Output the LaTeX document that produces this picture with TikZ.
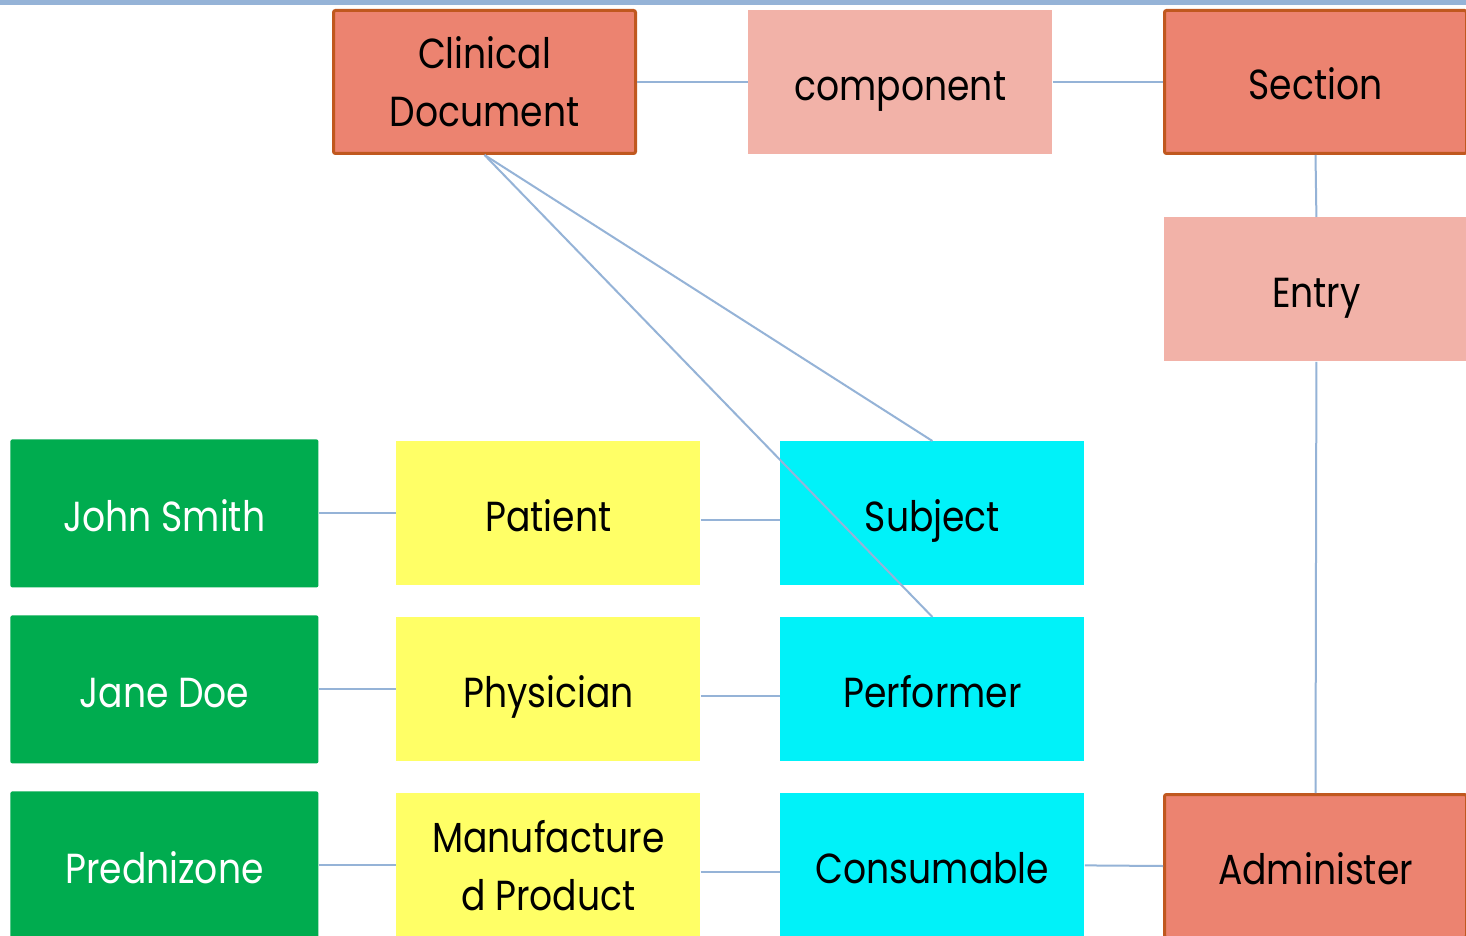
\documentclass[tikz,border=0pt]{standalone}
\usepackage{fontspec}
\setmainfont{Poppins}[FakeStretch=0.86]
\definecolor{linkblue}{HTML}{95B3D7}
\definecolor{darkfill}{HTML}{EC8370}
\definecolor{darkedge}{HTML}{C0581F}
\definecolor{lightfill}{HTML}{F2B2A8}
\definecolor{greenfill}{HTML}{00AC4F}
\definecolor{yellowfill}{HTML}{FFFF66}
\definecolor{cyanfill}{HTML}{00F2F9}
\begin{document}
\begin{tikzpicture}[x=0.5pt,y=-0.5pt,
  box/.style={rectangle, inner sep=0pt, anchor=north west, align=center,
    minimum width=152pt, minimum height=72pt,
    font=\fontsize{21}{29}\selectfont},
  oneline/.style={text height=20pt, text depth=2pt},
  darkbox/.style={box, fill=darkfill, draw=darkedge, line width=1.5pt, rounded corners=1pt,
    minimum width=151pt, minimum height=71.5pt},
  lightbox/.style={box, fill=lightfill},
  greenbox/.style={box, fill=greenfill, text=white, rounded corners=1pt,
    minimum width=154pt, minimum height=74pt},
  yellowbox/.style={box, fill=yellowfill},
  cyanbox/.style={box, fill=cyanfill},
  link/.style={draw=linkblue, line width=1pt}]
\useasboundingbox (0,0) rectangle (1466,936);
\clip (0,0) rectangle (1466,936);
\fill[white] (0,0) rectangle (1466,936);
\fill[linkblue] (0,0) rectangle (1466,5);
% top row
\node[darkbox] (cd) at (332,9) {Clinical\\Document};
\node[lightbox, oneline] (comp) at (748,10) {component};
\node[darkbox, oneline] (sec) at (1163,9) {Section};
\node[lightbox, oneline] (entry) at (1164,217) {Entry};
\node[darkbox, oneline] (adm) at (1163,793) {Administer};
% left column
\node[greenbox, oneline] (john) at (10,439) {John Smith};
\node[greenbox, oneline] (jane) at (10,615) {Jane Doe};
\node[greenbox, oneline] (pred) at (10,791) {Prednizone};
% middle column
\node[yellowbox, oneline] (pat) at (396,441) {Patient};
\node[yellowbox, oneline] (phys) at (396,617) {Physician};
\node[yellowbox] (mp) at (396,793) {Manufacture\\d Product};
% right column
\node[cyanbox, oneline] (subj) at (780,441) {Subject};
\node[cyanbox, oneline] (perf) at (780,617) {Performer};
\node[cyanbox, oneline] (cons) at (780,793) {Consumable};
% connectors
\draw[link] (cd.east) -- (comp.west |- cd.east);
\draw[link] (comp.east |- cd.east) -- (sec.west);
\draw[link] (sec.south) -- (entry.north);
\draw[link] (entry.south) -- (adm.north);
\draw[link] (cd.south) -- (subj.north);
\draw[link] (cd.south) -- (perf.north);
\draw[link] (john.east) -- (pat.west);
\draw[link] ([yshift=-3.5pt]pat.east) -- ([yshift=-3.5pt]subj.west);
\draw[link] (jane.east) -- (phys.west);
\draw[link] ([yshift=-3.5pt]phys.east) -- ([yshift=-3.5pt]perf.west);
\draw[link] (pred.east) -- (mp.west);
\draw[link] ([yshift=-3.5pt]mp.east) -- ([yshift=-3.5pt]cons.west);
\draw[link] (cons.east) -- (adm.west);
\end{tikzpicture}
\end{document}
